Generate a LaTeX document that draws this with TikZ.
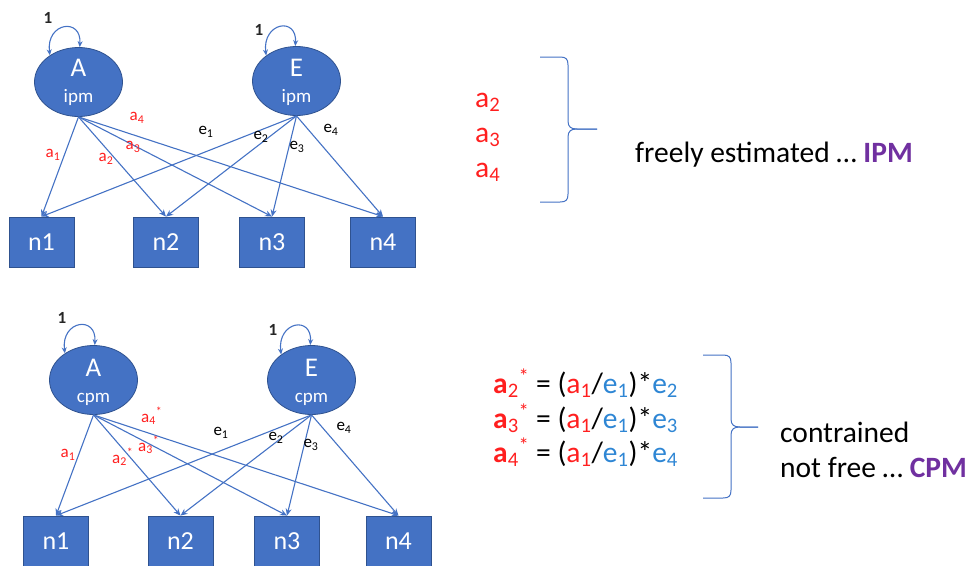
\documentclass[tikz,border=0pt]{standalone}
\usepackage{fontspec}
\setmainfont{Carlito}
\usetikzlibrary{arrows.meta,shapes.geometric}
\definecolor{nodeblue}{HTML}{4472C4}
\definecolor{nodeedge}{HTML}{2F528F}
\definecolor{lred}{HTML}{FF1F1F}
\definecolor{eblue}{HTML}{2E86D4}
\definecolor{purp}{HTML}{7030A0}
\definecolor{onecol}{HTML}{262626}
\newcommand{\fsz}[2]{\fontsize{#1}{#2}\selectfont}
\tikzset{
  latent/.style={ellipse, fill=nodeblue, draw=nodeedge, line width=0.8pt,
    minimum width=88pt, minimum height=69pt, inner sep=0pt},
  obs/.style={rectangle, fill=nodeblue, draw=nodeedge, line width=0.8pt,
    minimum width=65pt, minimum height=50pt, text=white, font=\fsz{26}{30}},
  bigtxt/.style={text=white, font=\fsz{27}{30}, anchor=base, inner sep=0pt},
  smalltxt/.style={text=white, font=\fsz{19}{22}, anchor=base, inner sep=0pt},
  pathar/.style={draw=nodeblue, line width=1.1pt, -{Stealth[length=7pt,width=6pt]}},
  looppath/.style={draw=nodeblue, line width=1.1pt,
    {Stealth[length=6pt,width=5pt]}-{Stealth[length=6pt,width=5pt]}},
  lab/.style={font=\fsz{17}{19}, inner sep=0pt},
  rlab/.style={lab, text=lred},
  onelab/.style={font=\fsz{17}{19}\bfseries, text=onecol, inner sep=0pt},
  side/.style={font=\fsz{29.5}{34}, anchor=base west, inner sep=0pt},
  bracepath/.style={draw=nodeblue, line width=1pt}
}
\begin{document}
\begin{tikzpicture}[x=1pt,y=-1pt]
\useasboundingbox (0,0) rectangle (976,565);
% ---------- top diagram (IPM) ----------
\node[latent] (A1) at (78.5,82) {};
\node[latent] (E1) at (296.5,81) {};
\node[bigtxt] (A1t) at (78.5,76) {A};
\node[smalltxt] (A1s) at (78.5,102) {ipm};
\node[bigtxt] (E1t) at (296.5,76) {E};
\node[smalltxt] (E1s) at (296.5,102) {ipm};
\node[obs] (n11) at (41.5,242) {n1};
\node[obs] (n12) at (166,242) {n2};
\node[obs] (n13) at (272,242) {n3};
\node[obs] (n14) at (383,242) {n4};
\foreach \k in {1,2,3,4} {
  \draw[pathar] (A1.south) -- (n1\k.north);
  \draw[pathar] (E1.south) -- (n1\k.north);
}
\draw[looppath] (A1.137) .. controls +(-4,-33) and +(2,-30) .. (A1.88);
\draw[looppath] (E1.140) .. controls +(-4,-33) and +(2,-30) .. (E1.92);
\node[onelab] (one1) at (48,18) {1};
\node[onelab] (one2) at (259,30) {1};
\node[rlab] (ta1) at (53,155) {a\textsubscript{1}};
\node[rlab] (ta2) at (106,159) {a\textsubscript{2}};
\node[rlab] (ta3) at (133,147) {a\textsubscript{3}};
\node[rlab] (ta4) at (137,118) {a\textsubscript{4}};
\node[lab] (te1) at (206,132) {e\textsubscript{1}};
\node[lab] (te2) at (261,137) {e\textsubscript{2}};
\node[lab] (te3) at (297,147) {e\textsubscript{3}};
\node[lab] (te4) at (331,130) {e\textsubscript{4}};
% ---------- bottom diagram (CPM) ----------
\node[latent] (A2) at (93.5,380) {};
\node[latent] (E2) at (311.5,380) {};
\node[bigtxt] (A2t) at (93.5,376) {A};
\node[smalltxt] (A2s) at (93.5,402) {cpm};
\node[bigtxt] (E2t) at (311.5,376) {E};
\node[smalltxt] (E2s) at (311.5,402) {cpm};
\node[obs] (n21) at (56,541) {n1};
\node[obs] (n22) at (180.5,541) {n2};
\node[obs] (n23) at (287,541) {n3};
\node[obs] (n24) at (398.5,541) {n4};
\foreach \k in {1,2,3,4} {
  \draw[pathar] (A2.south) -- (n2\k.north);
  \draw[pathar] (E2.south) -- (n2\k.north);
}
\draw[looppath] (A2.137) .. controls +(-4,-33) and +(2,-30) .. (A2.88);
\draw[looppath] (E2.140) .. controls +(-4,-33) and +(2,-30) .. (E2.92);
\node[onelab] (one3) at (62,318) {1};
\node[onelab] (one4) at (273,330) {1};
\node[rlab] (ba1) at (68,455) {a\textsubscript{1}};
\node[rlab, anchor=west] (ba2) at (112,457) {a\textsubscript{2}\textsuperscript{*}};
\node[rlab, anchor=west] (ba3) at (138,445) {a\textsubscript{3}\textsuperscript{*}};
\node[rlab, anchor=west] (ba4) at (141,416) {a\textsubscript{4}\textsuperscript{*}};
\node[lab] (be1) at (221,433) {e\textsubscript{1}};
\node[lab] (be2) at (276,438) {e\textsubscript{2}};
\node[lab] (be3) at (311,445) {e\textsubscript{3}};
\node[lab] (be4) at (344,428) {e\textsubscript{4}};
% ---------- right side, top ----------
\node[side, text=lred] (r2) at (475,107) {a\textsubscript{2}};
\node[side, text=lred] (r3) at (475,142) {a\textsubscript{3}};
\node[side, text=lred] (r4) at (475,177) {a\textsubscript{4}};
\coordinate (b1top) at (540,57);
\coordinate (b1tip) at (597,129);
\coordinate (b1bot) at (540,202);
\draw[bracepath] (b1top) -- (560,57) .. controls (566,57) and (568,59) .. (568,65)
  -- (568,121) .. controls (568,127) and (571,129) .. (577,129) -- (b1tip);
\draw[bracepath] (b1tip) -- (577,129) .. controls (571,129) and (568,131) .. (568,137)
  -- (568,194) .. controls (568,200) and (566,202) .. (560,202) -- (b1bot);
\node[side] (free) at (635,162) {freely estimated … \textcolor{purp}{\textbf{IPM}}};
% ---------- right side, bottom ----------
\node[side] (eq2) at (493,393) {\textcolor{lred}{\textbf{a}\textsubscript{2}\textsuperscript{*}} = (\textcolor{lred}{a\textsubscript{1}}/\textcolor{eblue}{e\textsubscript{1}})*\textcolor{eblue}{e\textsubscript{2}}};
\node[side] (eq3) at (493,428) {\textcolor{lred}{\textbf{a}\textsubscript{3}\textsuperscript{*}} = (\textcolor{lred}{a\textsubscript{1}}/\textcolor{eblue}{e\textsubscript{1}})*\textcolor{eblue}{e\textsubscript{3}}};
\node[side] (eq4) at (493,462) {\textcolor{lred}{\textbf{a}\textsubscript{4}\textsuperscript{*}} = (\textcolor{lred}{a\textsubscript{1}}/\textcolor{eblue}{e\textsubscript{1}})*\textcolor{eblue}{e\textsubscript{4}}};
\coordinate (b2top) at (703,355);
\coordinate (b2tip) at (758,427);
\coordinate (b2bot) at (703,498);
\draw[bracepath] (b2top) -- (723,355) .. controls (729,355) and (731,357) .. (731,363)
  -- (731,419) .. controls (731,425) and (734,427) .. (740,427) -- (b2tip);
\draw[bracepath] (b2tip) -- (740,427) .. controls (734,427) and (731,429) .. (731,435)
  -- (731,490) .. controls (731,496) and (729,498) .. (723,498) -- (b2bot);
\node[side] (c1) at (780,442) {contrained};
\node[side] (c2) at (780,477) {not free … \textcolor{purp}{\textbf{CPM}}};
\end{tikzpicture}
\end{document}
